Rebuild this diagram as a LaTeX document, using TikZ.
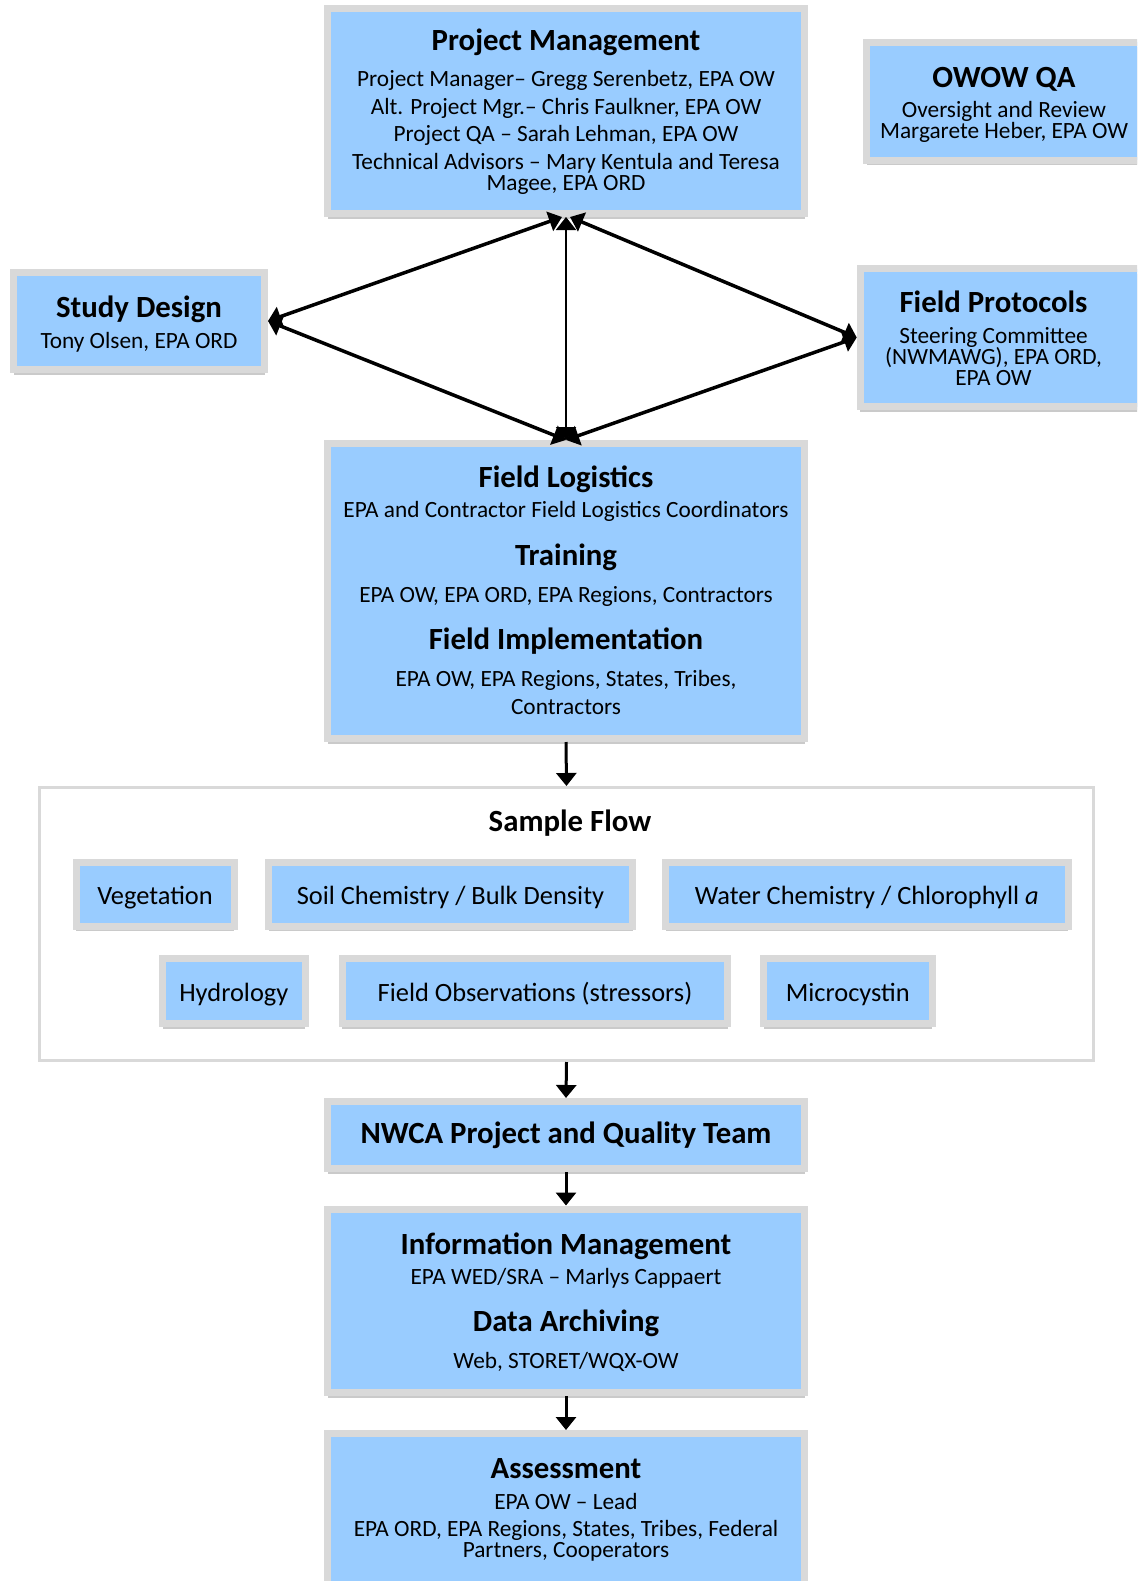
\documentclass[tikz,border=0pt]{standalone}
\usepackage{fontspec}
\setmainfont{Carlito}
\usetikzlibrary{arrows.meta,shadows}

\definecolor{boxblue}{RGB}{153,204,255}
\definecolor{framegray}{RGB}{217,217,217}

\tikzset{
  box/.style={draw=framegray,fill=boxblue,line width=7pt,inner sep=0pt,
    drop shadow={shadow xshift=0pt,shadow yshift=-5pt,opacity=.35,fill=black!60}},
  head/.style={anchor=base,font=\fontsize{30.8}{32}\selectfont\bfseries},
  txt/.style={anchor=base,font=\fontsize{23.3}{24}\selectfont},
  item/.style={box,font=\fontsize{26.4}{28}\selectfont,text height=20.6pt,text depth=0pt},
}

\begin{document}
\begin{tikzpicture}[x=1pt,y=-1pt,>={Triangle[length=13pt,width=20pt]}]
  \useasboundingbox (0,0) rectangle (1137,1581);
  \clip (0,0) rectangle (1137,1581);

  % top row
  \node[box,minimum width=477pt,minimum height=205pt] (pm) at (566,111) {};
  \node[head] (pmhead) at (566,50.5) {Project Management};
  \foreach \y/\t [count=\i] in {87/{Project Manager– Gregg Serenbetz, EPA OW},
      114.5/{Alt. Project Mgr.– Chris Faulkner, EPA OW},
      142/{Project QA – Sarah Lehman, EPA OW},
      169.3/{Technical Advisors – Mary Kentula and Teresa},
      190.5/{Magee, EPA ORD}}
    \node[txt] (pm\i) at (566,\y) {\t};

  \node[box,minimum width=275pt,minimum height=118pt] (owow) at (1004,101.5) {};
  \node[head] (owowhead) at (1004,88) {OWOW QA};
  \node[txt] (owow1) at (1004,118) {Oversight and Review};
  \node[txt] (owow2) at (1004,139) {Margarete Heber, EPA OW};

  % middle row
  \node[box,minimum width=251pt,minimum height=97pt] (sd) at (139,321) {};
  \node[head] (sdhead) at (139,317.5) {Study Design};
  \node[txt] (sd1) at (139,348) {Tony Olsen, EPA ORD};

  \node[box,minimum width=289.5pt,minimum height=138pt] (fp) at (1005,337.5) {};
  \node[head] (fphead) at (993.5,312) {Field Protocols};
  \node[txt] (fp1) at (993.5,343) {Steering Committee};
  \node[txt] (fp2) at (993.5,364) {(NWMAWG), EPA ORD,};
  \node[txt] (fp3) at (993.5,385) {EPA OW};

  \node[box,minimum width=477pt,minimum height=295pt] (fl) at (566,591) {};
  \node[head] (flhead1) at (566,487) {Field Logistics};
  \node[txt] (fl1) at (566,517) {EPA and Contractor Field Logistics Coordinators};
  \node[head] (flhead2) at (566,565.5) {Training};
  \node[txt] (fl2) at (566,602) {EPA OW, EPA ORD, EPA Regions, Contractors};
  \node[head] (flhead3) at (566,649) {Field Implementation};
  \node[txt] (fl3) at (566,686.5) {EPA OW, EPA Regions, States, Tribes,};
  \node[txt] (fl4) at (566,714.5) {Contractors};

  \draw[<->,line width=3.5pt] ([xshift=-4pt]pm.south) -- (sd.east);
  \draw[<->,line width=3.5pt] (sd.east) -- (fl.north);
  \draw[<->,line width=3.5pt] ([xshift=4pt]pm.south) -- (fp.west);
  \draw[<->,line width=3.5pt] (fp.west) -- (fl.north);
  \draw[<->,line width=2pt] (pm.south) -- (fl.north);

  % sample flow
  \node[draw=framegray,line width=3pt,inner sep=0pt,minimum width=1054pt,minimum height=273pt] (flow) at (566.5,924) {};
  \node[head] (flowhead) at (570,831.5) {Sample Flow};
  \node[item,minimum width=158pt,minimum height=64pt] (veg) at (155,894) {Vegetation};
  \node[item,minimum width=364pt,minimum height=64pt] (soil) at (450.5,894) {Soil Chemistry / Bulk Density};
  \node[item,minimum width=402.5pt,minimum height=64pt] (water) at (866.8,894) {Water Chemistry / Chlorophyll \textit{a}};
  \node[item,minimum width=142.5pt,minimum height=65.5pt] (hydro) at (233.8,991) {Hydrology};
  \node[item,minimum width=385.5pt,minimum height=65.5pt] (obs) at (535,991) {Field Observations (stressors)};
  \node[item,minimum width=168.5pt,minimum height=65.5pt] (micro) at (847.8,991) {Microcystin};

  % bottom column
  \node[box,minimum width=477pt,minimum height=67pt,font=\fontsize{30.8}{32}\selectfont\bfseries] (team) at (566,1135) {NWCA Project and Quality Team};

  \node[box,minimum width=477pt,minimum height=183.5pt] (im) at (566,1300.75) {};
  \node[head] (imhead1) at (566,1254) {Information Management};
  \node[txt] (im1) at (566,1284) {EPA WED/SRA – Marlys Cappaert};
  \node[head] (imhead2) at (566,1331.5) {Data Archiving};
  \node[txt] (im2) at (566,1368) {Web, STORET/WQX-OW};

  \node[box,minimum width=477pt,minimum height=166.5pt] (assess) at (566,1516.75) {};
  \node[head] (assesshead) at (566,1478.7) {Assessment};
  \node[txt] (assess1) at (566,1509) {EPA OW – Lead};
  \node[txt] (assess2) at (566,1536) {EPA ORD, EPA Regions, States, Tribes, Federal};
  \node[txt] (assess3) at (566,1557) {Partners, Cooperators};

  \draw[->,line width=3pt] (fl.south) -- (flow.north);
  \draw[->,line width=3pt] (flow.south) -- (team.north);
  \draw[->,line width=3pt] (team.south) -- (im.north);
  \draw[->,line width=3pt] (im.south) -- (assess.north);
\end{tikzpicture}
\end{document}
